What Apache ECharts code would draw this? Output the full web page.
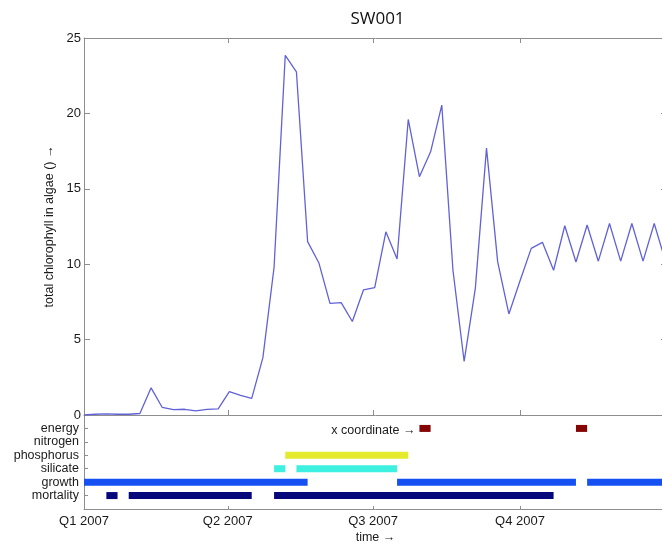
<!DOCTYPE html>
<html><head><meta charset="utf-8">
<script src="https://cdn.jsdelivr.net/npm/echarts@6/dist/echarts.min.js"></script>
<style>html,body{margin:0;padding:0;overflow:hidden;background:#fff}#c{width:672px;height:550px}</style>
</head><body><div id="c"></div>
<script>
// ---------- data ----------
const chartTitle = 'SW001';
const yAxisTitle = 'total chlorophyll in algae () \u2192';
const xAxisTitle = 'time \u2192';
const axisStartDate = '2007-01-01';
const axisEndDate = '2008-01-01';
const quarterStarts = ['2007-01-01', '2007-04-01', '2007-07-01', '2007-10-01'];
const quarterLabels = ['Q1 2007', 'Q2 2007', 'Q3 2007', 'Q4 2007'];
const chlorophyllTicks = [0, 5, 10, 15, 20, 25];
const sampleStartDate = '2007-01-01';
const sampleStepDays = 7;
const chlorophyll = [0.0, 0.05, 0.08, 0.05, 0.05, 0.1, 1.8, 0.5, 0.35, 0.38, 0.27, 0.37, 0.4,
  1.55, 1.3, 1.1, 3.8, 9.8, 23.85, 22.75, 11.5, 10.1, 7.4, 7.45, 6.2, 8.3, 8.45,
  12.15, 10.35, 19.6, 15.8, 17.45, 20.55, 9.6, 3.55, 8.4, 17.7, 10.15, 6.7, 8.9,
  11.05, 11.45, 9.6, 12.55, 10.15, 12.6, 10.2, 12.7, 10.2, 12.7, 10.2, 12.7, 10.2];

const processRows = ['energy', 'nitrogen', 'phosphorus', 'silicate', 'growth', 'mortality'];
const energyPeriods = [['2007-07-30', '2007-08-06'], ['2007-11-05', '2007-11-12']];
const nitrogenPeriods = [];
const phosphorusPeriods = [['2007-05-07', '2007-07-23']];
const silicatePeriods = [['2007-04-30', '2007-05-07'], ['2007-05-14', '2007-07-16']];
const growthPeriods = [['2007-01-01', '2007-05-21'], ['2007-07-16', '2007-11-05'], ['2007-11-12', '2007-12-31']];
const mortalityPeriods = [['2007-01-15', '2007-01-22'], ['2007-01-29', '2007-04-16'], ['2007-04-30', '2007-10-22']];
const annotation = { text: 'x coordinate \u2192', date: '2007-07-30', row: 'energy' };

// ---------- styles ----------
const FONT = '"Liberation Sans", Arial, sans-serif';
const TXT = '#1a1a1a';
const AX = '#8e8e8e';
const rowColors = {
  energy: '#850505', nitrogen: '#000000', phosphorus: '#e4ea2c',
  silicate: '#3ef0df', growth: '#1450f2', mortality: '#07077c'
};

function toMs(s) { const p = s.split('-').map(Number); return new Date(p[0], p[1] - 1, p[2]).getTime(); }
const DAY = 86400000;
const t0 = toMs(sampleStartDate);
const lineData = chlorophyll.map((v, i) => [t0 + i * sampleStepDays * DAY, v]);
const qMs = quarterStarts.map(toMs);
const xMin = toMs(axisStartDate), xMax = toMs(axisEndDate);
const rowTicks = processRows.map((_, i) => i + 1);

function qLabel(v) {
  let best = 0, bd = Infinity;
  qMs.forEach((q, i) => { const d = Math.abs(q - v); if (d < bd) { bd = d; best = i; } });
  return quarterLabels[best];
}

function periodSeries(name, periods) {
  const row = processRows.indexOf(name) + 1;
  const color = rowColors[name];
  return {
    type: 'custom', name, xAxisIndex: 2, yAxisIndex: 2,
    data: periods.map(p => [toMs(p[0]), toMs(p[1]), row]),
    encode: { x: [0, 1], y: 2 },
    renderItem: (params, api) => {
      const a = api.coord([api.value(0), api.value(2)]);
      const b = api.coord([api.value(1), api.value(2)]);
      const h = 7;
      const cs = params.coordSys;
      const rect = echarts.graphic.clipRectByRect(
        { x: a[0], y: a[1] - h / 2, width: b[0] - a[0], height: h },
        { x: cs.x, y: cs.y, width: cs.width, height: cs.height });
      return rect && { type: 'rect', shape: rect, style: { fill: color } };
    }
  };
}

const gridLeft = 84, gridW = 583;
const chart = echarts.init(document.getElementById('c'), null, { renderer: 'canvas' });

const lineAxis = { onZero: false, lineStyle: { color: AX, width: 1 } };
const option = {
  backgroundColor: '#fff',
  animation: false,
  title: {
    text: chartTitle, left: gridLeft + gridW / 2 - 3, top: 6, textAlign: 'center',
    textStyle: { fontFamily: '"Open Sans", sans-serif', fontSize: 17, fontWeight: 'normal', color: '#111' }
  },
  grid: [
    { left: gridLeft, top: 38, width: gridW, height: 377, outerBoundsMode: 'none' },
    { left: gridLeft, top: 415, width: gridW, height: 94, outerBoundsMode: 'none' }
  ],
  xAxis: [
    { type: 'value', gridIndex: 0, min: xMin, max: xMax, position: 'bottom',
      axisLine: lineAxis, splitLine: { show: false },
      axisTick: { customValues: qMs, inside: true, length: 5, lineStyle: { color: AX } },
      axisLabel: { show: false } },
    { type: 'value', gridIndex: 0, min: xMin, max: xMax, position: 'top',
      axisLine: lineAxis, splitLine: { show: false },
      axisTick: { customValues: qMs, inside: true, length: 5, lineStyle: { color: AX } },
      axisLabel: { show: false } },
    { type: 'value', gridIndex: 1, min: xMin, max: xMax, position: 'bottom',
      axisLine: lineAxis, splitLine: { show: false },
      axisTick: { customValues: qMs, inside: true, length: 3, lineStyle: { color: AX } },
      axisLabel: { customValues: qMs, formatter: qLabel, margin: 6, fontSize: 13, fontFamily: FONT, color: TXT },
      name: xAxisTitle, nameLocation: 'middle', nameGap: 22,
      nameTextStyle: { fontSize: 12.5, fontFamily: FONT, color: TXT } }
  ],
  yAxis: [
    { type: 'value', gridIndex: 0, min: 0, max: 25, interval: 5, position: 'left',
      axisLine: lineAxis, splitLine: { show: false },
      axisTick: { show: true, inside: true, length: 6, lineStyle: { color: AX } },
      axisLabel: { customValues: chlorophyllTicks, margin: 3, fontSize: 13, fontFamily: FONT, color: TXT },
      name: yAxisTitle, nameLocation: 'middle', nameGap: 25, nameRotate: 90,
      nameTextStyle: { fontSize: 12.5, fontFamily: FONT, color: TXT } },
    { type: 'value', gridIndex: 0, min: 0, max: 25, interval: 5, position: 'right',
      axisLine: lineAxis, splitLine: { show: false },
      axisTick: { show: true, inside: true, length: 6, lineStyle: { color: AX } },
      axisLabel: { show: false } },
    { type: 'value', gridIndex: 1, min: 0, max: processRows.length + 1, inverse: true, position: 'left',
      axisLine: lineAxis, splitLine: { show: false },
      axisTick: { customValues: rowTicks, inside: true, length: 4, lineStyle: { color: AX } },
      axisLabel: { customValues: rowTicks, formatter: v => processRows[Math.round(v) - 1] || '',
        margin: 5, fontSize: 12.5, fontFamily: FONT, color: TXT } },
    { type: 'value', gridIndex: 1, min: 0, max: processRows.length + 1, inverse: true, position: 'right',
      axisLine: lineAxis, splitLine: { show: false },
      axisTick: { customValues: rowTicks, inside: true, length: 4, lineStyle: { color: AX } },
      axisLabel: { show: false } }
  ],
  series: [
    { type: 'line', xAxisIndex: 0, yAxisIndex: 0, data: lineData, showSymbol: false, symbol: 'none',
      lineStyle: { color: '#6161d8', width: 1.3 }, itemStyle: { color: '#6161d8' }, z: 3 },
    periodSeries('energy', energyPeriods),
    periodSeries('nitrogen', nitrogenPeriods),
    periodSeries('phosphorus', phosphorusPeriods),
    periodSeries('silicate', silicatePeriods),
    periodSeries('growth', growthPeriods),
    periodSeries('mortality', mortalityPeriods),
    { type: 'custom', xAxisIndex: 2, yAxisIndex: 2,
      data: [[toMs(annotation.date), processRows.indexOf(annotation.row) + 1]],
      encode: { x: 0, y: 1 },
      renderItem: (params, api) => {
        const p = api.coord([api.value(0), api.value(1)]);
        return { type: 'text', x: p[0] - 4, y: p[1] + 2,
          style: { text: annotation.text, align: 'right', verticalAlign: 'middle',
            fontSize: 12.5, fontFamily: FONT, fill: TXT } };
      } }
  ]
};
chart.setOption(option);
</script>
</body></html>
